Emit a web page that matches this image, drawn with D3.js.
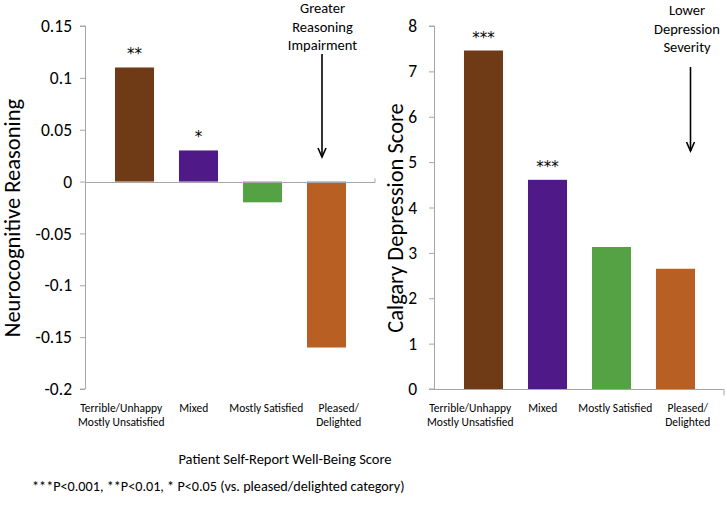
<!DOCTYPE html>
<html>
<head>
    <title>Well-being vs reasoning and depression</title>
    <script src="https://d3js.org/d3.v7.min.js"></script>
    <style>
        body { margin: 0; background: #fff; }
        text { font-family: Carlito, Lato, "Open Sans", sans-serif; fill: #000; }
    </style>
</head>
<body>
    <svg width="727" height="509"></svg>
    <script>
        // data
        const categories = ["Terrible/Unhappy|Mostly Unsatisfied", "Mixed", "Mostly Satisfied", "Pleased/|Delighted"];
        const barColors = ["#6e3b16", "#4f1a87", "#55a244", "#b85f23"];
        const reasoning = [0.11, 0.03, -0.02, -0.16];
        const reasoningStars = ["**", "*", "", ""];
        const depression = [7.46, 4.61, 3.13, 2.65];
        const depressionStars = ["***", "***", "", ""];
        const reasoningTicks = [0.15, 0.1, 0.05, 0, -0.05, -0.1, -0.15, -0.2];
        const depressionTicks = [0, 1, 2, 3, 4, 5, 6, 7, 8];

        const svg = d3.select("svg");
        const axisGrey = "#a6a6a6";
        const plotTop = 26, plotBottom = 389;

        function arrow(g, x, y1, y2) {
            g.append("line").attr("x1", x).attr("x2", x).attr("y1", y1).attr("y2", y2)
                .attr("stroke", "#000").attr("stroke-width", 1.6);
            g.append("path").attr("d", `M${x - 4},${y2 - 9}L${x},${y2}L${x + 4},${y2 - 9}`)
                .attr("fill", "none").attr("stroke", "#000").attr("stroke-width", 1.6);
        }

        function panel(opts) {
            const g = svg.append("g");
            const y = d3.scaleLinear().domain(opts.domain).range([plotBottom, plotTop]);
            const xLab = d3.scaleBand().domain(categories).range([opts.x0, opts.x1]);
            const xBar = d3.scaleBand().domain(categories).range([opts.x0 + 17.5, opts.x1 - 16.5])
                .paddingInner(0.39).paddingOuter(0.195);

            // y axis
            const yAxis = g.append("g").attr("transform", `translate(${opts.x0},0)`)
                .call(d3.axisLeft(y).tickValues(opts.ticks).tickSize(5).tickPadding(opts.pad)
                    .tickFormat(d => String(+d.toFixed(2))));
            yAxis.selectAll("path, line").attr("stroke", axisGrey);
            yAxis.select(".domain").attr("d", `M-5,${plotBottom}H0.5V${plotTop}H-5`);
            yAxis.selectAll("text").style("font-size", "17.5px").attr("fill", "#000");
            yAxis.attr("font-family", null);

            // bars
            g.selectAll(".bar").data(opts.values).join("rect")
                .attr("class", "bar")
                .attr("x", (d, i) => xBar(categories[i]))
                .attr("width", xBar.bandwidth())
                .attr("y", d => y(Math.max(0, d)))
                .attr("height", d => Math.abs(y(d) - y(0)))
                .attr("fill", (d, i) => barColors[i]);

            // category axis line
            const y0 = Math.round(y(0)) + 0.5;
            g.append("path")
                .attr("d", `M${opts.x0},${y0}H${opts.x1}V${y0 + opts.endTick}`)
                .attr("fill", "none").attr("stroke", axisGrey);

            // significance stars
            g.selectAll(".star").data(opts.values).join("text")
                .attr("class", "star")
                .attr("x", (d, i) => xBar(categories[i]) + xBar.bandwidth() / 2)
                .attr("y", d => y(d) - 8)
                .attr("text-anchor", "middle")
                .style("font-family", "'DejaVu Sans', sans-serif")
                .style("font-size", "15px")
                .text((d, i) => opts.stars[i]);

            // category labels
            const labs = g.selectAll(".cat").data(categories).join("text")
                .attr("class", "cat")
                .attr("text-anchor", "middle")
                .style("font-size", "11.5px");
            labs.selectAll("tspan").data(d => d.split("|").map(s => ({ s, c: d }))).join("tspan")
                .attr("x", d => xLab(d.c) + xLab.bandwidth() / 2)
                .attr("y", (d, i) => 412 + i * 13.5)
                .text(d => d.s);

            // y title
            g.append("text")
                .attr("transform", `translate(${opts.titleX},218) rotate(-90)`)
                .attr("text-anchor", "middle")
                .style("font-size", "22.5px")
                .text(opts.title);

            // note with arrow
            const n = g.append("text").attr("text-anchor", "middle").style("font-size", "14.5px");
            n.selectAll("tspan").data(opts.note).join("tspan")
                .attr("x", opts.noteX).attr("y", (d, i) => opts.noteY + i * 18.5).text(d => d);
            arrow(g, opts.arrowX, opts.arrowY[0], opts.arrowY[1]);
        }

        panel({
            domain: [-0.2, 0.15], ticks: reasoningTicks, values: reasoning, stars: reasoningStars,
            x0: 85, x1: 375, pad: 8, endTick: -4,
            title: "Neurocognitive Reasoning", titleX: 20,
            note: ["Greater", "Reasoning", "Impairment"], noteX: 322.5, noteY: 13,
            arrowX: 322, arrowY: [54, 157]
        });

        panel({
            domain: [0, 8], ticks: depressionTicks, values: depression, stars: depressionStars,
            x0: 434, x1: 724, pad: 12, endTick: 6,
            title: "Calgary Depression Score", titleX: 403,
            note: ["Lower", "Depression", "Severity"], noteX: 687, noteY: 15,
            arrowX: 690.5, arrowY: [67, 151]
        });

        svg.append("text")
            .attr("x", 285).attr("y", 464)
            .attr("text-anchor", "middle")
            .style("font-size", "14.5px")
            .text("Patient Self-Report Well-Being Score");

        svg.append("text")
            .attr("x", 32).attr("y", 491)
            .style("font-size", "14.2px")
            .text("***P<0.001, **P<0.01, * P<0.05 (vs. pleased/delighted category)");
    </script>
</body>
</html>
